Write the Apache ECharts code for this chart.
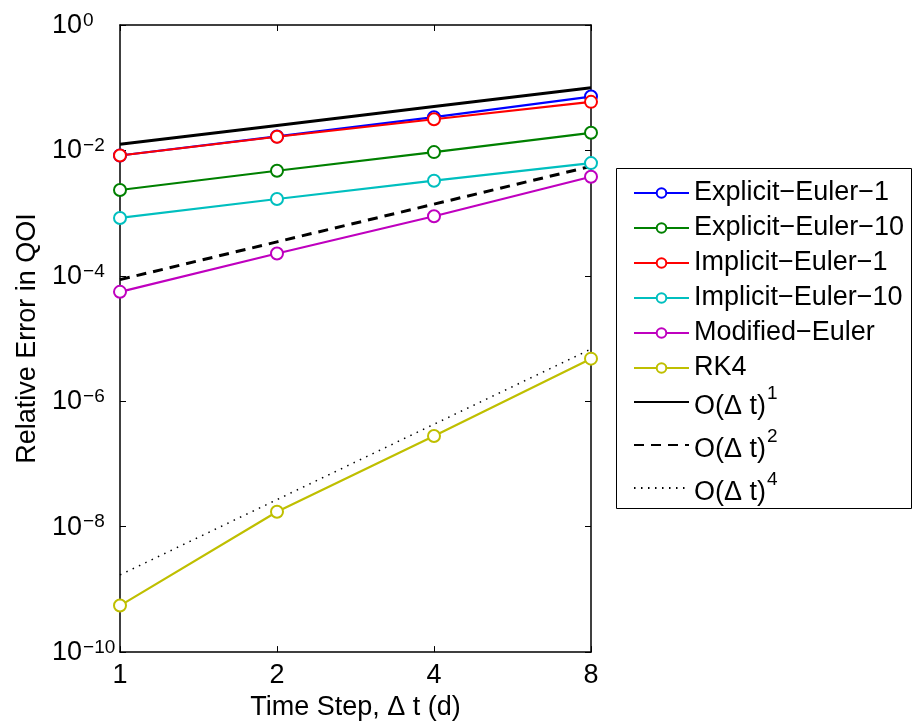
<!DOCTYPE html>
<html><head><meta charset="utf-8">
<script src="https://cdn.jsdelivr.net/npm/echarts@6/dist/echarts.min.js"></script>
<style>html,body{margin:0;padding:0;background:#fff}#c{width:914px;height:726px}</style>
</head><body><div id="c"></div>
<script>
const timeSteps = [1, 2, 4, 8];
const explicitEuler1 = [0.0083, 0.0167, 0.0339, 0.0723];
const explicitEuler10 = [0.00234, 0.00474, 0.0094, 0.0191];
const implicitEuler1 = [0.0083, 0.0165, 0.0314, 0.0595];
const implicitEuler10 = [0.000838, 0.00168, 0.00329, 0.00628];
const modifiedEuler = [5.56e-5, 2.27e-4, 8.9e-4, 0.0038];
const rk4 = [5.52e-10, 1.73e-8, 2.8e-7, 4.78e-6];
const order1 = [0.0125, 0.025, 0.05, 0.1];
const order2 = [8.7e-5, 3.48e-4, 1.39e-3, 5.57e-3];
const order4 = [1.7e-9, 2.7e-8, 4.3e-7, 6.8e-6];
const xTickLabels = ['1', '2', '4', '8'];

const FONT = 'Liberation Sans';
const FS = 27;
const pairs = arr => timeSteps.map((t, i) => [t, arr[i]]);

const methodSeries = [
  ['Explicit−Euler−1', explicitEuler1, '#0000ff'],
  ['Explicit−Euler−10', explicitEuler10, '#008000'],
  ['Implicit−Euler−1', implicitEuler1, '#ff0000'],
  ['Implicit−Euler−10', implicitEuler10, '#00bfbf'],
  ['Modified−Euler', modifiedEuler, '#bf00bf'],
  ['RK4', rk4, '#bfbf00']
].map(([name, arr, color]) => ({
  name, type: 'line', data: pairs(arr), color,
  symbol: 'emptyCircle', symbolSize: 12, showSymbol: true,
  lineStyle: { width: 2.2, color }, itemStyle: { color, borderWidth: 2.2, borderColor: color },
  animation: false, z: 3
}));

const refSeries = [
  ['O1', order1, 'solid', 3],
  ['O2', order2, [10, 7], 3],
  ['O4', order4, [1.5, 5.5], 1.5]
].map(([name, arr, type, width]) => ({
  name, type: 'line', data: pairs(arr), symbol: 'none', color: '#000',
  lineStyle: { width, type, color: '#000' }, animation: false, z: 2
}));

const supLabel = v => {
  const e = Math.round(Math.log10(v));
  return '{b|10}{s|' + (e < 0 ? '−' + (-e) : e) + '}';
};

const chart = echarts.init(document.getElementById('c'));
chart.setOption({
  backgroundColor: '#fff',
  animation: false,
  textStyle: { fontFamily: FONT },
  grid: { left: 120, right: 323, top: 25, bottom: 73, containLabel: false },
  xAxis: [{
    type: 'log', logBase: 2, min: 1, max: 8,
    name: 'Time Step, Δ t (d)', nameLocation: 'middle', nameGap: 41,
    nameTextStyle: { fontSize: FS, color: '#000', fontFamily: FONT },
    axisLine: { lineStyle: { color: '#000', width: 1.5 } },
    axisTick: { inside: true, length: 6, lineStyle: { color: '#000' } },
    axisLabel: { fontSize: FS, color: '#000', margin: 10, fontFamily: FONT,
      formatter: v => xTickLabels[Math.round(Math.log2(v))] },
    splitLine: { show: false }, minorTick: { show: false }
  }, {
    type: 'log', logBase: 2, min: 1, max: 8, position: 'top',
    axisLine: { lineStyle: { color: '#000', width: 1.5 } },
    axisTick: { inside: true, length: 6, lineStyle: { color: '#000' } },
    axisLabel: { show: false }, splitLine: { show: false }
  }],
  yAxis: [{
    type: 'log', logBase: 10, min: 1e-10, max: 1, interval: 2,
    name: 'Relative Error in QOI', nameLocation: 'middle', nameGap: 77,
    nameTextStyle: { fontSize: FS, color: '#000', fontFamily: FONT },
    axisLine: { lineStyle: { color: '#000', width: 1.5 } },
    axisTick: { inside: true, length: 6, lineStyle: { color: '#000' } },
    axisLabel: { align: 'left', margin: 68, color: '#000', formatter: supLabel,
      padding: [0, 0, 0, 0],
      rich: {
        b: { fontSize: FS, fontFamily: FONT, color: '#000', verticalAlign: 'bottom', lineHeight: 28, padding: [6, 0, 0, 0] },
        s: { fontSize: 19, fontFamily: FONT, color: '#000', verticalAlign: 'top', lineHeight: 20, padding: [0, 0, 0, 1] }
      } },
    splitLine: { show: false }, minorTick: { show: false }
  }, {
    type: 'log', logBase: 10, min: 1e-10, max: 1, interval: 2, position: 'right',
    axisLine: { lineStyle: { color: '#000', width: 1.5 } },
    axisTick: { inside: true, length: 6, lineStyle: { color: '#000' } },
    axisLabel: { show: false }, splitLine: { show: false }
  }],
  legend: [{
    data: methodSeries.map(s => s.name),
    orient: 'vertical', left: 628, top: 174, itemWidth: 55, itemHeight: 12, itemGap: 7,
    textStyle: { fontSize: FS, color: '#000', fontFamily: FONT, lineHeight: 28 },
    selectedMode: false
  }, {
    data: refSeries.map(s => ({ name: s.name, itemStyle: { opacity: 0 } })),
    orient: 'vertical', left: 628, top: 379, itemWidth: 55, itemHeight: 12, itemGap: 7,
    formatter: n => '{n|O(Δ t)}{s|' + n.slice(1) + '}',
    textStyle: { fontSize: FS, color: '#000', fontFamily: FONT,
      rich: {
        n: { fontSize: FS, fontFamily: FONT, color: '#000', verticalAlign: 'bottom', lineHeight: 36 },
        s: { fontSize: 19, fontFamily: FONT, color: '#000', verticalAlign: 'top', lineHeight: 20, padding: [0, 0, 0, 1] }
      } },
    selectedMode: false
  }],
  graphic: [{
    type: 'rect', shape: { x: 616.5, y: 168.5, width: 295, height: 340 },
    style: { fill: 'none', stroke: '#000', lineWidth: 1 }, z: 0
  }],
  series: [...methodSeries, ...refSeries]
});
</script></body></html>
